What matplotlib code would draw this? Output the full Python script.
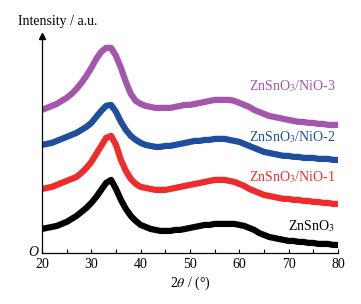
import matplotlib
matplotlib.use("Agg")
import matplotlib.pyplot as plt
import numpy as np

# 2theta positions (degrees) and intensities (offset, a.u.)
two_theta = np.arange(20, 81, 1)

znsno3 = [24, 25, 26, 27, 29, 31, 34, 37, 41, 45,
          50, 56, 63, 70, 73, 64, 53, 44, 37, 32,
          28, 26, 24, 23, 22, 22, 22, 23, 23, 24,
          25, 26, 27, 28, 28, 29, 29, 29, 29, 29,
          28, 27, 25, 23, 20, 18, 16, 15, 14, 13,
          12, 12, 11, 11, 10, 10, 9, 9, 9, 8, 8]

nio_1 = [64, 65, 66, 68, 70, 72, 74, 76, 80, 85,
         91, 99, 107, 115, 117, 108, 93, 82, 74, 69,
         66, 65, 64, 63, 63, 63, 64, 65, 66, 67,
         68, 69, 70, 71, 72, 73, 73, 73, 72, 71,
         69, 67, 64, 62, 60, 58, 57, 56, 55, 54,
         54, 53, 53, 52, 52, 51, 51, 50, 50, 49, 49]

nio_2 = [108, 109, 110, 112, 114, 116, 118, 120, 123, 126,
         130, 136, 142, 147, 148, 141, 131, 123, 117, 113,
         110, 108, 107, 106, 106, 107, 107, 108, 109, 110,
         111, 112, 112, 113, 113, 114, 114, 114, 113, 112,
         111, 109, 107, 105, 103, 101, 100, 99, 98, 97,
         97, 96, 96, 95, 95, 95, 94, 94, 94, 93, 93]

nio_3 = [143, 145, 147, 149, 152, 155, 159, 164, 170, 177,
         185, 194, 201, 205, 205, 197, 185, 171, 159, 152,
         149, 147, 146, 145, 145, 145, 145, 146, 147, 148,
         148, 149, 150, 151, 152, 153, 153, 153, 153, 152,
         150, 148, 146, 143, 141, 139, 137, 136, 135, 134,
         133, 132, 131, 131, 130, 130, 129, 129, 128, 128, 128]

series = [znsno3, nio_1, nio_2, nio_3]
labels = ["ZnSnO$_3$", "ZnSnO$_3$/NiO-1", "ZnSnO$_3$/NiO-2", "ZnSnO$_3$/NiO-3"]
colors = ["#000000", "#ee2c2c", "#1f4e9e", "#a456ac"]
label_y = [27, 76, 116, 167]

plt.rcParams['font.family'] = ['Liberation Serif', 'DejaVu Serif']
plt.rcParams['mathtext.fontset'] = 'stix'

fig = plt.figure(figsize=(3.61, 3.04), dpi=100)
ax = fig.add_axes([0.1163, 0.168, 0.82, 0.714])

# thick lines stand in for the noisy band of the measured patterns
for y, c in zip(series, colors):
    ax.plot(two_theta, y, color=c, lw=4.5, solid_joinstyle='round')

for lab, c, ly in zip(labels, colors, label_y):
    ax.text(79.4, ly, lab, color=c, fontsize=10, ha='right', va='center')

ax.set_xlim(20, 80)
ax.set_ylim(0, 217)
ax.set_xticks(np.arange(20, 81, 10))
ax.set_xticks(np.arange(25, 80, 10), minor=True)
ax.tick_params(axis='x', which='both', direction='in', length=3, width=0.8, labelsize=10, pad=4)
ax.set_yticks([])
ax.spines['top'].set_visible(False)
ax.spines['right'].set_visible(False)
ax.spines['left'].set_linewidth(0.9)
ax.spines['bottom'].set_linewidth(0.9)

# arrow on the intensity axis
ax.plot(0, 1, marker='^', color='black', ms=4, transform=ax.transAxes, clip_on=False)

ax.text(-0.012, 0, "O", transform=ax.transAxes, fontsize=10, style='italic', ha='right', va='center')
ax.set_xlabel(r"2$\theta$ / (°)", fontsize=10, labelpad=2)
fig.text(18 / 361, 1 - 22 / 304, "Intensity / a.u.", fontsize=10, ha='left', va='center')

fig.savefig("out.png", dpi=100)
